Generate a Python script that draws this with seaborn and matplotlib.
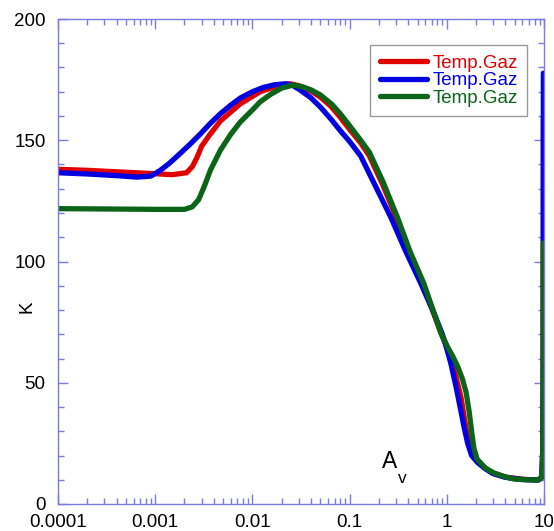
import matplotlib
matplotlib.use("Agg")
import matplotlib.pyplot as plt
import matplotlib.ticker as mticker
import numpy as np
import pandas as pd
import seaborn as sns

# Gas temperature profiles against visual extinction
av_red = [1e-4, 2e-4, 5e-4, 1e-3, 1.5e-3, 2.1e-3, 2.4e-3, 2.7e-3, 3e-3, 3.6e-3,
          4.7e-3, 7.5e-3, 0.012, 0.0194, 0.0245, 0.03, 0.04, 0.05, 0.065, 0.08,
          0.1, 0.13, 0.16, 0.22, 0.31, 0.42, 0.58, 0.75, 0.87, 1.0, 1.1, 1.25,
          1.4, 1.55, 1.7, 1.9, 2.1, 2.5, 3.0, 4.0, 6.0, 8.7, 9.5, 9.75, 9.82, 9.85]
t_red = [138, 137.6, 136.8, 136.2, 135.8, 136.6, 139, 143, 147.5, 152,
         158, 165, 170, 172.8, 173.3, 172.5, 170.3, 167.8, 163.8, 159.5,
         154.5, 148.9, 143.5, 131.5, 117, 103, 90, 77.5, 70.5, 65, 60, 52,
         44, 33, 24, 19, 17.3, 14.6, 12.7, 11.1, 10.2, 9.9, 11, 25, 60, 160]

av_blue = [1e-4, 2e-4, 4e-4, 6.5e-4, 9e-4, 1.12e-3, 1.4e-3, 1.8e-3, 2.3e-3, 2.9e-3,
           3.7e-3, 4.7e-3, 6e-3, 7.5e-3, 0.01, 0.013, 0.017, 0.022, 0.026, 0.031,
           0.04, 0.05, 0.065, 0.08, 0.1, 0.13, 0.18, 0.265, 0.38, 0.54, 0.75, 0.9,
           1.0, 1.1, 1.25, 1.39, 1.5, 1.64, 1.8, 2.09, 2.5, 3.0, 4.0, 6.0, 8.7,
           9.5, 9.75, 9.82, 9.85]
t_blue = [136.6, 136.1, 135.4, 134.8, 135.2, 137.5, 140.5, 144.5, 148.5, 152.5,
          157, 161, 164.5, 167.4, 170, 171.8, 172.9, 173.3, 172.6, 170.7,
          167.5, 163.7, 158.5, 154, 149.5, 143.5, 132, 118.3, 104, 91, 78, 70,
          64, 58, 48, 38.8, 32, 25, 20, 17, 14.5, 12.5, 11, 10.1, 9.9,
          11, 25, 60, 177.7]

av_green = [1e-4, 5e-4, 1e-3, 2e-3, 2.4e-3, 2.8e-3, 3.2e-3, 3.7e-3, 4.7e-3, 6e-3,
            7.5e-3, 0.01, 0.012, 0.0155, 0.02, 0.0265, 0.033, 0.04, 0.05, 0.065,
            0.08, 0.1, 0.13, 0.16, 0.22, 0.31, 0.42, 0.58, 0.75, 0.87, 1.02, 1.15,
            1.3, 1.45, 1.58, 1.7, 1.8, 1.9, 2.05, 2.5, 3.06, 4.0, 4.9, 6.5, 8.7,
            9.3, 9.6, 9.75, 9.82, 9.85]
t_green = [121.8, 121.6, 121.5, 121.5, 122.5, 125.5, 131, 137.7, 146, 152.5,
           157.5, 162.5, 165.8, 169, 171.5, 172.8, 172, 170.8, 168.7, 165,
           161, 156, 150, 145, 133, 118.3, 104, 91, 78, 70.5, 64.7, 61,
           56.5, 51.5, 46, 38, 30, 23, 18.5, 14.8, 12.8, 11.2, 10.3, 10, 9.9,
           10.5, 13, 25, 60, 107.6]

series_labels = ["Temp.Gaz", "Temp.Gaz", "Temp.Gaz"]
series_colors = ["#e00000", "#0000e0", "#0b6418"]
x_ticks = [1e-4, 1e-3, 1e-2, 1e-1, 1, 10]
x_tick_labels = ["0.0001", "0.001", "0.01", "0.1", "1", "10"]
y_ticks = [0, 50, 100, 150, 200]

sns.set_theme(style="white")
plt.rcParams["font.family"] = ["Liberation Sans", "DejaVu Sans"]

frame = "#7b7be6"
fig = plt.figure(figsize=(5.54, 5.31), dpi=100)
ax = fig.add_axes([58 / 554, 1 - 504 / 531, 486 / 554, 485 / 531])

for xs, ys, lab, col in zip([av_red, av_blue, av_green],
                            [t_red, t_blue, t_green],
                            series_labels, series_colors):
    df = pd.DataFrame({"Av": xs, "T": ys})
    sns.lineplot(data=df, x="Av", y="T", color=col, lw=3.8, label=lab,
                 sort=False, estimator=None, ax=ax,
                 solid_capstyle="round", solid_joinstyle="round")

ax.set_xscale("log")
ax.set_xlim(1e-4, 10)
ax.set_ylim(0, 200)
ax.set_xticks(x_ticks)
ax.set_xticklabels(x_tick_labels)
ax.xaxis.set_minor_locator(mticker.LogLocator(base=10, subs=np.arange(2, 10), numticks=20))
ax.xaxis.set_minor_formatter(mticker.NullFormatter())
ax.set_yticks(y_ticks)
ax.yaxis.set_minor_locator(mticker.MultipleLocator(10))

for s in ax.spines.values():
    s.set_color(frame)
    s.set_linewidth(1.0)
ax.tick_params(which="both", direction="in", top=True, right=True,
               bottom=True, left=True, color=frame, width=1.0,
               labelsize=13.5, labelcolor="black")
ax.tick_params(which="major", length=7)
ax.tick_params(which="minor", length=4)
ax.tick_params(axis="x", which="major", pad=7.5)
ax.tick_params(axis="y", which="major", pad=9)

ax.set_xlabel("")
ax.set_ylabel("")
ax.text(-0.064, 0.406, "K", transform=ax.transAxes, fontsize=13.5,
        color="black", rotation=90, ha="center", va="center")

ax.text(0.667, 0.074, "A", transform=ax.transAxes, fontsize=16.5, color="black",
        ha="left", va="baseline")
ax.text(0.700, 0.043, "v", transform=ax.transAxes, fontsize=12.5, color="black",
        ha="left", va="baseline")

leg = ax.legend(loc="upper right", bbox_to_anchor=(0.965, 0.946), fontsize=13.5,
                frameon=True, fancybox=False, framealpha=1, edgecolor="#999999",
                labelspacing=0.02, handlelength=2.5, handletextpad=0.3,
                borderpad=0.5, borderaxespad=0)
leg.get_frame().set_linewidth(1.0)
for txt, col in zip(leg.get_texts(), series_colors):
    txt.set_color(col)
for ln in leg.get_lines():
    ln.set_linewidth(3.8)

fig.savefig("out.png", dpi=100)
